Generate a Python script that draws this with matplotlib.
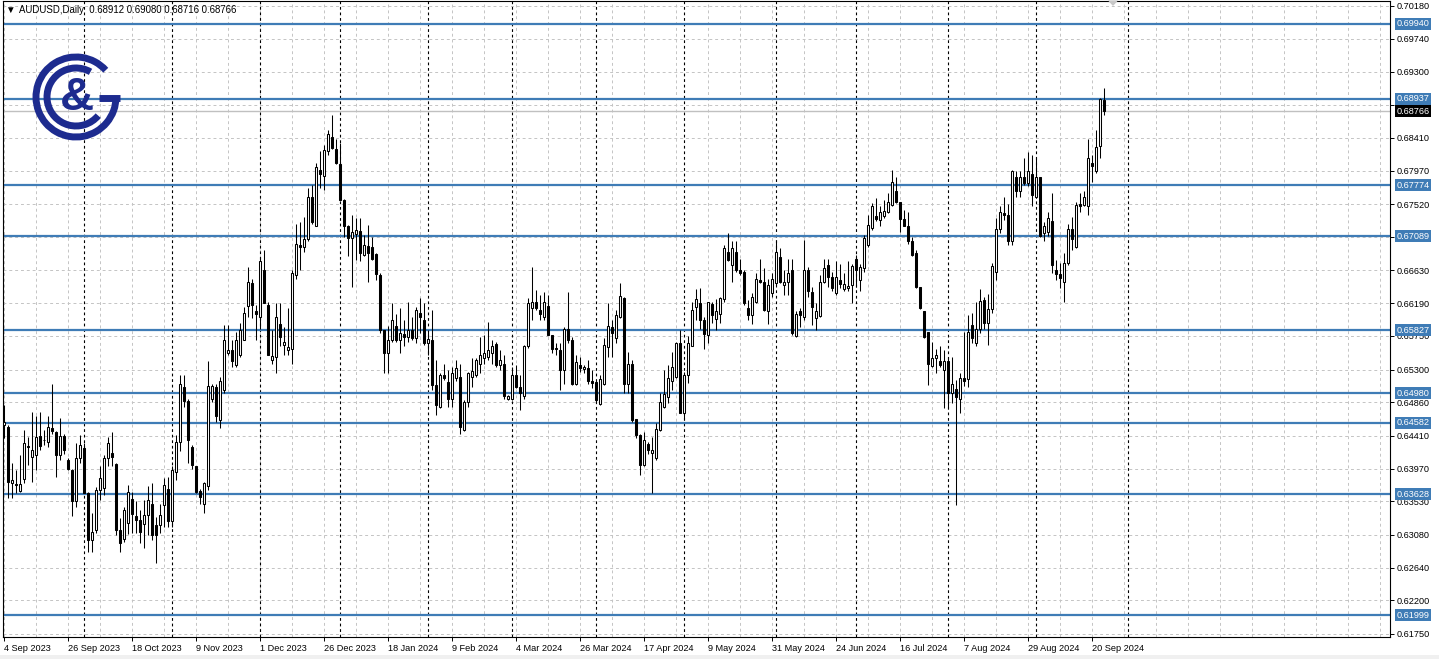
import numpy as np
import pandas as pd
import matplotlib
matplotlib.use('Agg')
import matplotlib.pyplot as plt
from matplotlib.patches import Arc, Rectangle, Polygon

plt.rcParams['font.family'] = ['Liberation Sans', 'DejaVu Sans']

# ---- data: AUDUSD daily candles, 4 Sep 2023 .. 25 Sep 2024 ----
opens = [
    0.6456, 0.6453, 0.6378, 0.6376, 0.6367, 0.6383, 0.6427, 0.6413, 0.6415, 0.6441,
    0.6436, 0.6433, 0.6451, 0.6446, 0.6415, 0.6441, 0.6408, 0.6395, 0.6353, 0.6411,
    0.6425, 0.6364, 0.6301, 0.6315, 0.6368, 0.6371, 0.6411, 0.6418, 0.6403, 0.6315,
    0.6303, 0.6324, 0.6356, 0.6334, 0.6328, 0.6323, 0.6335, 0.6349, 0.6321, 0.6321,
    0.6348, 0.6370, 0.6326, 0.6393, 0.6433, 0.6507, 0.6488, 0.6426, 0.6400, 0.6367,
    0.6350, 0.6373, 0.6490, 0.6507, 0.6462, 0.6503, 0.6552, 0.6556, 0.6536, 0.6549,
    0.6570, 0.6615, 0.6646, 0.6608, 0.6600, 0.6664, 0.6617, 0.6543, 0.6547, 0.6591,
    0.6563, 0.6556, 0.6557, 0.6657, 0.6697, 0.6695, 0.6705, 0.6761, 0.6723, 0.6798,
    0.6790, 0.6823, 0.6842, 0.6826, 0.6806, 0.6758, 0.6722, 0.6706, 0.6712, 0.6716,
    0.6684, 0.6696, 0.6694, 0.6685, 0.6657, 0.6583, 0.6552, 0.6570, 0.6588, 0.6570,
    0.6578, 0.6574, 0.6583, 0.6572, 0.6606, 0.6597, 0.6566, 0.6570, 0.6509, 0.6479,
    0.6523, 0.6513, 0.6491, 0.6518, 0.6520, 0.6449, 0.6487, 0.6520, 0.6523, 0.6538,
    0.6546, 0.6547, 0.6552, 0.6564, 0.6536, 0.6538, 0.6491, 0.6491, 0.6523, 0.6507,
    0.6494, 0.6561, 0.6612, 0.6621, 0.6610, 0.6601, 0.6615, 0.6576, 0.6559, 0.6556,
    0.6529, 0.6584, 0.6570, 0.6511, 0.6536, 0.6531, 0.6532, 0.6515, 0.6513, 0.6484,
    0.6511, 0.6560, 0.6587, 0.6572, 0.6601, 0.6626, 0.6511, 0.6537, 0.6463, 0.6442,
    0.6402, 0.6430, 0.6418, 0.6411, 0.6449, 0.6480, 0.6493, 0.6515, 0.6520, 0.6565,
    0.6472, 0.6523, 0.6562, 0.6614, 0.6619, 0.6596, 0.6576, 0.6618, 0.6598, 0.6605,
    0.6624, 0.6688, 0.6670, 0.6688, 0.6664, 0.6661, 0.6612, 0.6603, 0.6621, 0.6650,
    0.6648, 0.6608, 0.6633, 0.6646, 0.6681, 0.6644, 0.6648, 0.6664, 0.6575, 0.6608,
    0.6601, 0.6663, 0.6634, 0.6599, 0.6602, 0.6647, 0.6670, 0.6654, 0.6633, 0.6650,
    0.6638, 0.6639, 0.6643, 0.6679, 0.6650, 0.6666, 0.6697, 0.6720, 0.6736, 0.6731,
    0.6736, 0.6742, 0.6751, 0.6769, 0.6755, 0.6732, 0.6723, 0.6703, 0.6686, 0.6641,
    0.6608, 0.6580, 0.6535, 0.6546, 0.6542, 0.6530, 0.6541, 0.6498, 0.6504, 0.6490,
    0.6519, 0.6517, 0.6590, 0.6566, 0.6584, 0.6623, 0.6592, 0.6611, 0.6661, 0.6718,
    0.6740, 0.6737, 0.6702, 0.6789, 0.6770, 0.6788, 0.6780, 0.6793, 0.6761, 0.6788,
    0.6713, 0.6714, 0.6729, 0.6664, 0.6658, 0.6648, 0.6673, 0.6718, 0.6695, 0.6752,
    0.6751, 0.6750, 0.6807, 0.6797, 0.6830, 0.68912,
]
highs = [
    0.6482, 0.6455, 0.6404, 0.6395, 0.6415, 0.6449, 0.6440, 0.6473, 0.6467, 0.6473,
    0.6449, 0.6467, 0.6511, 0.6448, 0.6465, 0.6443, 0.6411, 0.6397, 0.6431, 0.6442,
    0.6431, 0.6366, 0.6337, 0.6372, 0.6400, 0.6415, 0.6440, 0.6446, 0.6405, 0.6330,
    0.6346, 0.6375, 0.6366, 0.6353, 0.6341, 0.6355, 0.6373, 0.6377, 0.6332, 0.6350,
    0.6385, 0.6386, 0.6400, 0.6442, 0.6522, 0.6523, 0.6490, 0.6428, 0.6401, 0.6370,
    0.6379, 0.6541, 0.6510, 0.6511, 0.6520, 0.6590, 0.6590, 0.6570, 0.6581, 0.6592,
    0.6614, 0.6668, 0.6651, 0.6616, 0.6681, 0.6690, 0.6621, 0.6583, 0.6619, 0.6619,
    0.6587, 0.6612, 0.6664, 0.6726, 0.6728, 0.6735, 0.6773, 0.6778, 0.6807, 0.6824,
    0.6831, 0.6852, 0.6872, 0.6839, 0.6834, 0.6759, 0.6724, 0.6737, 0.6734, 0.6733,
    0.6711, 0.6724, 0.6708, 0.6686, 0.6659, 0.6583, 0.6588, 0.6619, 0.6605, 0.6612,
    0.6596, 0.6621, 0.6601, 0.6614, 0.6626, 0.6619, 0.6583, 0.6610, 0.6543, 0.6525,
    0.6538, 0.6529, 0.6534, 0.6543, 0.6538, 0.6489, 0.6527, 0.6545, 0.6545, 0.6574,
    0.6576, 0.6594, 0.6570, 0.6567, 0.6556, 0.6549, 0.6496, 0.6534, 0.6536, 0.6523,
    0.6563, 0.6626, 0.6668, 0.6637, 0.6630, 0.6634, 0.6630, 0.6576, 0.6565, 0.6565,
    0.6587, 0.6634, 0.6574, 0.6549, 0.6547, 0.6536, 0.6543, 0.6529, 0.6513, 0.6523,
    0.6572, 0.6619, 0.6597, 0.6610, 0.6646, 0.6628, 0.6554, 0.6543, 0.6463, 0.6444,
    0.6446, 0.6433, 0.6440, 0.6458, 0.6498, 0.6529, 0.6536, 0.6554, 0.6567, 0.6583,
    0.6527, 0.6575, 0.6621, 0.6638, 0.6639, 0.6601, 0.6621, 0.6621, 0.6625, 0.6628,
    0.6697, 0.6713, 0.6702, 0.6702, 0.6679, 0.6664, 0.6623, 0.6633, 0.6660, 0.6679,
    0.6666, 0.6652, 0.6659, 0.6704, 0.6693, 0.6664, 0.6679, 0.6679, 0.6608, 0.6612,
    0.6704, 0.6668, 0.6641, 0.6619, 0.6657, 0.6679, 0.6679, 0.6661, 0.6675, 0.6672,
    0.6659, 0.6675, 0.6672, 0.6684, 0.6671, 0.6710, 0.6737, 0.6754, 0.6760, 0.6749,
    0.6758, 0.6767, 0.6798, 0.6789, 0.6755, 0.6744, 0.6742, 0.6708, 0.6690, 0.6641,
    0.6608, 0.6580, 0.6567, 0.6558, 0.6561, 0.6556, 0.6547, 0.6547, 0.6516, 0.6525,
    0.6580, 0.6603, 0.6606, 0.6620, 0.6638, 0.6628, 0.6632, 0.6673, 0.6733, 0.6749,
    0.6762, 0.6752, 0.6798, 0.6796, 0.6796, 0.6814, 0.6822, 0.6818, 0.6814, 0.6789,
    0.6728, 0.6742, 0.6767, 0.6677, 0.6673, 0.6686, 0.6725, 0.6735, 0.6755, 0.6767,
    0.6769, 0.6839, 0.6818, 0.6852, 0.6894, 0.69080,
]
lows = [
    0.6438, 0.6357, 0.6357, 0.6364, 0.6366, 0.6377, 0.6402, 0.6379, 0.6395, 0.6422,
    0.6429, 0.6426, 0.6444, 0.6386, 0.6409, 0.6417, 0.6395, 0.6333, 0.6346, 0.6404,
    0.6364, 0.6285, 0.6285, 0.6310, 0.6355, 0.6362, 0.6400, 0.6400, 0.6308, 0.6285,
    0.6299, 0.6309, 0.6310, 0.6310, 0.6297, 0.6290, 0.6308, 0.6301, 0.6270, 0.6310,
    0.6319, 0.6319, 0.6319, 0.6382, 0.6420, 0.6480, 0.6404, 0.6397, 0.6364, 0.6350,
    0.6337, 0.6368, 0.6487, 0.6460, 0.6451, 0.6498, 0.6549, 0.6534, 0.6534, 0.6547,
    0.6570, 0.6601, 0.6599, 0.6570, 0.6585, 0.6619, 0.6550, 0.6538, 0.6525, 0.6561,
    0.6550, 0.6550, 0.6538, 0.6651, 0.6664, 0.6688, 0.6702, 0.6725, 0.6722, 0.6773,
    0.6771, 0.6818, 0.6826, 0.6806, 0.6757, 0.6708, 0.6683, 0.6641, 0.6677, 0.6675,
    0.6682, 0.6647, 0.6677, 0.6650, 0.6579, 0.6525, 0.6525, 0.6567, 0.6567, 0.6552,
    0.6561, 0.6567, 0.6570, 0.6565, 0.6579, 0.6563, 0.6550, 0.6502, 0.6469, 0.6478,
    0.6516, 0.6480, 0.6480, 0.6514, 0.6444, 0.6447, 0.6480, 0.6507, 0.6520, 0.6525,
    0.6538, 0.6543, 0.6538, 0.6534, 0.6529, 0.6491, 0.6489, 0.6489, 0.6505, 0.6476,
    0.6491, 0.6559, 0.6596, 0.6610, 0.6596, 0.6596, 0.6576, 0.6552, 0.6549, 0.6502,
    0.6511, 0.6565, 0.6509, 0.6509, 0.6527, 0.6525, 0.6511, 0.6505, 0.6485, 0.6483,
    0.6509, 0.6547, 0.6547, 0.6565, 0.6599, 0.6498, 0.6498, 0.6460, 0.6438, 0.6388,
    0.6400, 0.6417, 0.6364, 0.6409, 0.6447, 0.6478, 0.6485, 0.6502, 0.6518, 0.6471,
    0.6464, 0.6512, 0.6561, 0.6596, 0.6585, 0.6557, 0.6565, 0.6592, 0.6583, 0.6592,
    0.6621, 0.6675, 0.6648, 0.6661, 0.6657, 0.6617, 0.6597, 0.6591, 0.6619, 0.6646,
    0.6608, 0.6591, 0.6628, 0.6643, 0.6646, 0.6630, 0.6630, 0.6576, 0.6574, 0.6587,
    0.6596, 0.6628, 0.6590, 0.6583, 0.6601, 0.6646, 0.6641, 0.6635, 0.6630, 0.6639,
    0.6635, 0.6635, 0.6619, 0.6641, 0.6635, 0.6661, 0.6695, 0.6717, 0.6730, 0.6722,
    0.6734, 0.6740, 0.6749, 0.6754, 0.6714, 0.6722, 0.6699, 0.6682, 0.6639, 0.6611,
    0.6572, 0.6509, 0.6534, 0.6525, 0.6534, 0.6478, 0.6478, 0.6485, 0.6348, 0.6472,
    0.6508, 0.6507, 0.6565, 0.6562, 0.6579, 0.6585, 0.6563, 0.6606, 0.6650, 0.6713,
    0.6731, 0.6697, 0.6697, 0.6762, 0.6762, 0.6778, 0.6776, 0.6750, 0.6760, 0.6708,
    0.6702, 0.6709, 0.6659, 0.6650, 0.6640, 0.6621, 0.6670, 0.6690, 0.6693, 0.6742,
    0.6749, 0.6738, 0.6782, 0.6794, 0.6814, 0.68716,
]
closes = [
    0.6460, 0.6379, 0.6381, 0.6375, 0.6376, 0.6431, 0.6426, 0.6422, 0.6440, 0.6427,
    0.6435, 0.6453, 0.6447, 0.6415, 0.6441, 0.6422, 0.6396, 0.6353, 0.6411, 0.6429,
    0.6364, 0.6301, 0.6312, 0.6368, 0.6384, 0.6411, 0.6432, 0.6413, 0.6315, 0.6297,
    0.6341, 0.6365, 0.6336, 0.6328, 0.6312, 0.6335, 0.6355, 0.6308, 0.6308, 0.6335,
    0.6375, 0.6326, 0.6395, 0.6433, 0.6511, 0.6488, 0.6435, 0.6402, 0.6366, 0.6359,
    0.6377, 0.6508, 0.6508, 0.6467, 0.6514, 0.6569, 0.6556, 0.6542, 0.6570, 0.6583,
    0.6606, 0.6648, 0.6616, 0.6605, 0.6675, 0.6619, 0.6550, 0.6548, 0.6601, 0.6573,
    0.6567, 0.6560, 0.6659, 0.6699, 0.6694, 0.6705, 0.6761, 0.6728, 0.6802, 0.6793,
    0.6825, 0.6846, 0.6827, 0.6807, 0.6758, 0.6722, 0.6706, 0.6714, 0.6717, 0.6686,
    0.6697, 0.6686, 0.6679, 0.6658, 0.6583, 0.6552, 0.6570, 0.6596, 0.6570, 0.6579,
    0.6574, 0.6583, 0.6572, 0.6610, 0.6601, 0.6565, 0.6571, 0.6509, 0.6482, 0.6523,
    0.6518, 0.6491, 0.6525, 0.6532, 0.6453, 0.6487, 0.6525, 0.6528, 0.6543, 0.6549,
    0.6552, 0.6556, 0.6562, 0.6536, 0.6543, 0.6494, 0.6494, 0.6523, 0.6507, 0.6499,
    0.6561, 0.6619, 0.6621, 0.6612, 0.6605, 0.6620, 0.6576, 0.6558, 0.6557, 0.6529,
    0.6585, 0.6570, 0.6511, 0.6540, 0.6532, 0.6534, 0.6515, 0.6512, 0.6489, 0.6517,
    0.6563, 0.6588, 0.6579, 0.6603, 0.6629, 0.6511, 0.6538, 0.6462, 0.6442, 0.6402,
    0.6435, 0.6422, 0.6422, 0.6450, 0.6487, 0.6497, 0.6518, 0.6534, 0.6565, 0.6472,
    0.6523, 0.6565, 0.6610, 0.6624, 0.6597, 0.6578, 0.6620, 0.6603, 0.6608, 0.6626,
    0.6693, 0.6677, 0.6693, 0.6664, 0.6660, 0.6619, 0.6603, 0.6627, 0.6652, 0.6648,
    0.6610, 0.6643, 0.6652, 0.6688, 0.6648, 0.6648, 0.6659, 0.6579, 0.6604, 0.6603,
    0.6664, 0.6635, 0.6614, 0.6608, 0.6647, 0.6666, 0.6654, 0.6639, 0.6654, 0.6645,
    0.6645, 0.6642, 0.6669, 0.6664, 0.6667, 0.6706, 0.6724, 0.6750, 0.6732, 0.6741,
    0.6743, 0.6755, 0.6782, 0.6755, 0.6732, 0.6723, 0.6702, 0.6684, 0.6641, 0.6613,
    0.6574, 0.6537, 0.6546, 0.6549, 0.6536, 0.6542, 0.6499, 0.6511, 0.6493, 0.6518,
    0.6514, 0.6581, 0.6572, 0.6584, 0.6622, 0.6592, 0.6611, 0.6669, 0.6718, 0.6742,
    0.6738, 0.6702, 0.6797, 0.6769, 0.6788, 0.6781, 0.6796, 0.6764, 0.6788, 0.6709,
    0.6723, 0.6734, 0.6670, 0.6658, 0.6653, 0.6673, 0.6718, 0.6705, 0.6751, 0.6750,
    0.6762, 0.6814, 0.6803, 0.6829, 0.6893, 0.68766,
]

# horizontal levels drawn on the chart
levels = [0.69940, 0.68937, 0.67774, 0.67089, 0.65827, 0.64980, 0.64582, 0.63628, 0.61999]
last_price = 0.68766
price_ticks = [0.70180, 0.69740, 0.69300, 0.68850, 0.68410, 0.67970, 0.67520, 0.67080,
               0.66630, 0.66190, 0.65750, 0.65300, 0.64860, 0.64410, 0.63970, 0.63530,
               0.63080, 0.62640, 0.62200, 0.61750]

# trading days (MT4 has no bars on 25 Dec and 1 Jan)
dates = pd.bdate_range('2023-09-04', '2024-09-25')
dates = dates[~dates.isin(pd.to_datetime(['2023-12-25', '2024-01-01']))]
n = len(dates)
assert n == len(opens) == len(highs) == len(lows) == len(closes)

W, H = 1439, 659
BLUE = '#3F7CB6'
NAVY = '#1D2B8F'
FS = 6.6

fig = plt.figure(figsize=(W / 100, H / 100), dpi=100, facecolor='white')
ax = fig.add_axes([3 / W, 22 / H, 1387 / W, 636 / H])
ax.set_xlim(-0.25, 346.5)
ax.set_ylim(0.61709, 0.70247)

idx = np.arange(n)
o = np.array(opens); h = np.array(highs); l = np.array(lows); c = np.array(closes)
up = c >= o

# grid
for k in range(0, 347, 8):
    ax.axvline(k, color='#C4C4C4', lw=0.7, ls=(0, (3, 3)), zorder=1)
for p in price_ticks:
    ax.axhline(p, color='#C4C4C4', lw=0.7, ls=(0, (3, 3)), zorder=1)

# month separators
month_starts = [i for i in range(1, n) if dates[i].month != dates[i - 1].month]
future_oct = n - 1 + (pd.Timestamp('2024-10-01') - dates[-1]).days
for i in month_starts + [future_oct]:
    ax.axvline(i, color='black', lw=0.8, ls=(0, (2.5, 2.5)), zorder=1.5)

# levels
for lv in levels:
    ax.axhline(lv, color=BLUE, lw=1.6, zorder=2)
ax.axhline(last_price, color='#C0C0C0', lw=1.0, zorder=1.8)

# candles
ax.vlines(idx, l, h, color='black', lw=0.75, zorder=2.5)
ax.bar(idx, np.abs(c - o), bottom=np.minimum(o, c), width=0.62,
       color=np.where(up, 'white', 'black'), edgecolor='black', linewidth=0.75, zorder=3)

# axes styling
for s in ax.spines.values():
    s.set_color('black')
    s.set_linewidth(0.8)
ax.yaxis.tick_right()
ax.set_yticks(price_ticks)
ax.set_yticklabels([f'{p:.5f}' for p in price_ticks])
ax.tick_params(axis='y', length=3, width=0.7, pad=2, labelsize=FS, colors='black')

xt = list(range(0, n, 16))
ax.set_xticks(xt)
ax.set_xticklabels([f'{dates[i].day} {dates[i]:%b %Y}' for i in xt])
ax.tick_params(axis='x', length=3, width=0.7, pad=2, labelsize=FS)
for t in ax.get_xticklabels():
    t.set_ha('left')

# price labels on the right scale
ytr = ax.get_yaxis_transform()
for lv in levels:
    ax.text(1.0045, lv, f'{lv:.5f}', transform=ytr, color='white', fontsize=FS,
            va='center', ha='left', clip_on=False, zorder=6,
            bbox=dict(boxstyle='square,pad=0.17', fc=BLUE, ec='none'))
ax.text(1.0045, last_price, f'{last_price:.5f}', transform=ytr, color='white', fontsize=FS,
        va='center', ha='left', clip_on=False, zorder=7,
        bbox=dict(boxstyle='square,pad=0.17', fc='black', ec='none'))

# header
fig.text(5 / W, 1 - 10 / H, '\u25bc', fontsize=7, va='center', ha='left', color='black')
fig.text(19 / W, 1 - 10 / H, 'AUDUSD,Daily  0.68912 0.69080 0.68716 0.68766',
         fontsize=FS + 0.3, va='center', ha='left', color='black')

# small shift marker at the top
fig.patches.append(Polygon([[1108 / W, 1 - 0.5 / H], [1118 / W, 1 - 0.5 / H], [1113 / W, 1 - 6 / H]],
                           closed=True, transform=fig.transFigure, fc='#C8C8C8', ec='none'))
# bottom strip
fig.patches.append(Rectangle((0, 0), 1, 4 / H, transform=fig.transFigure, fc='#F0F0F0', ec='none'))

# logo
lg = fig.add_axes([26 / W, (H - 147) / H, 100 / W, 100 / H])
lg.set_xlim(0, 100)
lg.set_ylim(0, 100)
lg.set_aspect('equal')
lg.axis('off')
lg.add_patch(Arc((50, 50), 80, 80, theta1=42, theta2=360, lw=5.0, color=NAVY))
lg.add_patch(Arc((50, 50), 58, 58, theta1=60, theta2=320, lw=5.0, color=NAVY))
lg.plot([73, 94], [49.5, 49.5], color=NAVY, lw=5.0, solid_capstyle='butt')
lg.text(51, 49, '&', fontsize=34, fontweight='bold', color=NAVY, ha='center', va='center')

fig.savefig('out.png', dpi=100, facecolor='white')
